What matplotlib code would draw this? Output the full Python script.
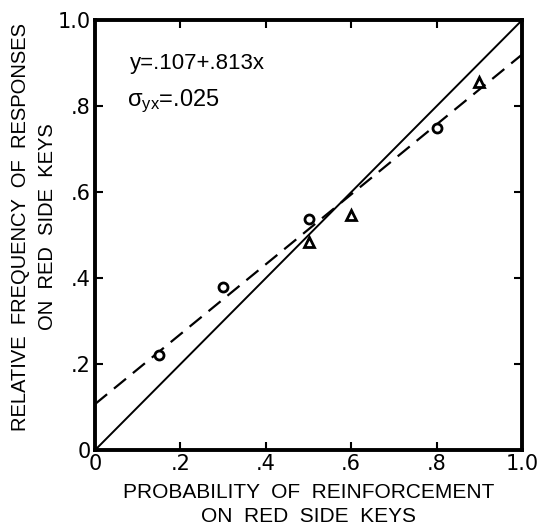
import matplotlib
matplotlib.use("Agg")
import matplotlib.pyplot as plt
import numpy as np

plt.rcParams['font.family'] = ['Liberation Sans', 'DejaVu Sans']

circle_x = [0.15, 0.30, 0.50, 0.80]
circle_y = [0.221, 0.380, 0.537, 0.749]
tri_x = [0.50, 0.60, 0.90]
tri_y = [0.484, 0.548, 0.856]
intercept = 0.107
slope = 0.813
ticks = [0, 0.2, 0.4, 0.6, 0.8, 1.0]
tick_labels = ['0', '.2', '.4', '.6', '.8', '1.0']

fig = plt.figure(figsize=(5.37, 5.32), dpi=100)
ax = fig.add_axes([0.177, 0.154, 0.795, 0.808])

ax.plot([0, 1], [0, 1], color='black', lw=1.4)
xx = np.array([0, 1.0])
ax.plot(xx, intercept + slope * xx, color='black', lw=1.6, dashes=(7, 4))

ax.plot(circle_x, circle_y, 'o', mfc='white', mec='black', mew=2.0, ms=6.5)
ax.plot(tri_x, tri_y, '^', mfc='white', mec='black', mew=2.0, ms=6.5)

ax.set_xlim(0, 1)
ax.set_ylim(0, 1)
ax.set_xticks(ticks)
ax.set_yticks(ticks)
ax.set_xticklabels(tick_labels, fontsize=15, family=['DejaVu Sans'])
ax.set_yticklabels(tick_labels, fontsize=15, family=['DejaVu Sans'])
ax.tick_params(direction='in', length=6, width=1.5, pad=3, top=True, right=True)
for s in ax.spines.values():
    s.set_linewidth(2.8)

ax.set_xlabel('PROBABILITY  OF  REINFORCEMENT\nON  RED  SIDE  KEYS', fontsize=15, linespacing=1.35, labelpad=6)
ax.set_ylabel('RELATIVE  FREQUENCY  OF  RESPONSES\nON  RED  SIDE  KEYS', fontsize=14.5, linespacing=1.55)
ax.yaxis.set_label_coords(-0.088, 0.52)

ax.text(0.082, 0.90, 'y=.107+.813x', fontsize=16, transform=ax.transAxes, va='center')
ax.text(0.075, 0.812, r'$\mathregular{\sigma_{yx}}$=.025', fontsize=17, transform=ax.transAxes, va='center')

fig.savefig('out.png', dpi=100)
